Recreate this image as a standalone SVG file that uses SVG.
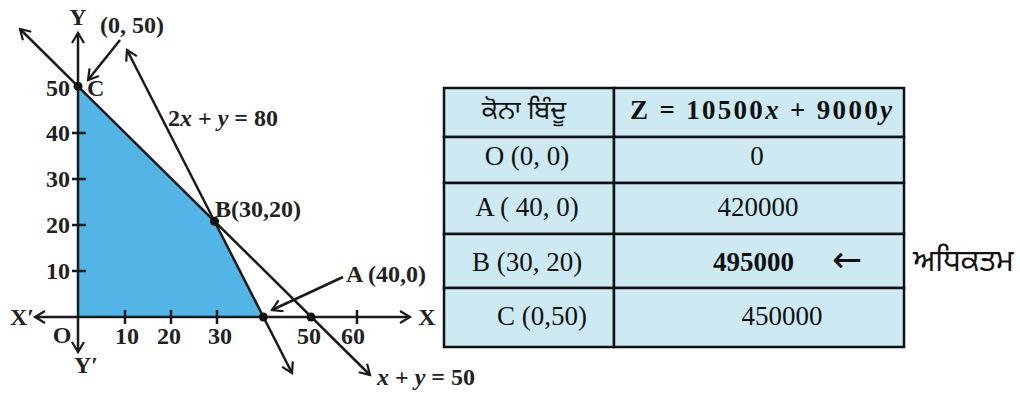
<svg xmlns="http://www.w3.org/2000/svg" width="1020" height="395" viewBox="0 0 1020 395">
<defs>
<style>
.ln{stroke:#1a1a1a;stroke-width:2.5;fill:none}
.ax{stroke:#1a1a1a;stroke-width:2.5;fill:none}
.tk{stroke:#1a1a1a;stroke-width:2.5}
.g{font-family:"Liberation Serif","Times New Roman",serif;font-weight:bold;font-size:24px;fill:#222}
.tb{font-family:"Liberation Serif","Times New Roman",serif;font-size:27px;fill:#111}
.pa{font-family:"Noto Sans Gurmukhi","Lohit Gurmukhi","Noto Sans",sans-serif;font-size:26px;fill:#111}
.cell{fill:#cdeaf3;stroke:#111;stroke-width:2.5}
.dot{fill:#111}
</style>
<marker id="ar" viewBox="0 0 14 14" refX="11" refY="7" markerWidth="14" markerHeight="14" markerUnits="userSpaceOnUse" orient="auto-start-reverse">
<path d="M1,1 L11,7 L1,13" fill="none" stroke="#1a1a1a" stroke-width="2.2"/>
</marker>
</defs>

<g id="region">
<polygon points="78,317 263.4,317 214.5,221.3 78,86.3" fill="#52b5e6"/>
</g>

<g id="axes">
<line class="ax" x1="78" y1="352" x2="78" y2="33" marker-start="url(#ar)" marker-end="url(#ar)"/>
<line class="ax" x1="35" y1="317" x2="410" y2="317" marker-start="url(#ar)" marker-end="url(#ar)"/>
<line class="tk" x1="72" y1="133" x2="86" y2="133"/>
<line class="tk" x1="72" y1="179" x2="86" y2="179"/>
<line class="tk" x1="72" y1="225" x2="86" y2="225"/>
<line class="tk" x1="72" y1="271" x2="86" y2="271"/>
<line class="tk" x1="125" y1="310" x2="125" y2="324"/>
<line class="tk" x1="171" y1="310" x2="171" y2="324"/>
<line class="tk" x1="217" y1="310" x2="217" y2="324"/>
<line class="tk" x1="357" y1="310" x2="357" y2="324"/>
<text class="g" x="78" y="25" text-anchor="middle">Y</text>
<text class="g" x="22" y="325" text-anchor="middle">X′</text>
<text class="g" x="427" y="325" text-anchor="middle">X</text>
<text class="g" x="86" y="373" text-anchor="middle">Y′</text>
<text class="g" x="62" y="343" text-anchor="middle">O</text>
<text class="g" x="70" y="96" text-anchor="end">50</text>
<text class="g" x="70" y="141" text-anchor="end">40</text>
<text class="g" x="70" y="187" text-anchor="end">30</text>
<text class="g" x="70" y="233" text-anchor="end">20</text>
<text class="g" x="70" y="279" text-anchor="end">10</text>
<text class="g" x="127" y="344" text-anchor="middle">10</text>
<text class="g" x="169" y="344" text-anchor="middle">20</text>
<text class="g" x="220" y="344" text-anchor="middle">30</text>
<text class="g" x="309" y="344" text-anchor="middle">50</text>
<text class="g" x="353" y="344" text-anchor="middle">60</text>
</g>

<g id="connectors">
<line class="ln" x1="78" y1="86.3" x2="20" y2="29" marker-end="url(#ar)"/>
<line class="ln" x1="78" y1="86.3" x2="370" y2="375" marker-end="url(#ar)"/>
<line class="ln" x1="214.5" y1="221.3" x2="127" y2="50" marker-end="url(#ar)"/>
<line class="ln" x1="214.5" y1="221.3" x2="292" y2="373" marker-end="url(#ar)"/>
<line class="ln" x1="120" y1="40" x2="88" y2="80" marker-end="url(#ar)"/>
<line class="ln" x1="343" y1="277" x2="272" y2="310" marker-end="url(#ar)"/>
</g>

<g id="pointC">
<circle class="dot" cx="78" cy="86.3" r="4.5"/>
<text class="g" x="87" y="96">C</text>
<text class="g" x="100" y="33">(0, 50)</text>
</g>
<g id="pointB">
<circle class="dot" cx="214.5" cy="221.3" r="4.5"/>
<text class="g" x="215" y="217">B(30,20)</text>
</g>
<g id="pointA">
<circle class="dot" cx="263.4" cy="317" r="4.5"/>
<text class="g" x="346" y="282">A (40,0)</text>
</g>
<g id="point50">
<circle class="dot" cx="311" cy="317" r="4.5"/>
</g>
<g id="line1label">
<text class="g" x="168" y="126">2<tspan font-style="italic">x</tspan> + <tspan font-style="italic">y</tspan> = 80</text>
</g>
<g id="line2label">
<text class="g" x="377" y="385"><tspan font-style="italic">x</tspan> + <tspan font-style="italic">y</tspan> = 50</text>
</g>

<g id="table">
<rect class="cell" x="444" y="88" width="170" height="49"/>
<rect class="cell" x="614" y="88" width="290" height="49"/>
<rect class="cell" x="444" y="137" width="170" height="46"/>
<rect class="cell" x="614" y="137" width="290" height="46"/>
<rect class="cell" x="444" y="183" width="170" height="51"/>
<rect class="cell" x="614" y="183" width="290" height="51"/>
<rect class="cell" x="444" y="234" width="170" height="54"/>
<rect class="cell" x="614" y="234" width="290" height="54"/>
<rect class="cell" x="444" y="288" width="170" height="59"/>
<rect class="cell" x="614" y="288" width="290" height="59"/>
<text class="pa" x="524" y="119" text-anchor="middle">ਕੋਨਾ ਬਿੰਦੂ</text>
<text class="tb" x="630" y="119" font-weight="bold" textLength="262" lengthAdjust="spacing">Z = 10500<tspan font-style="italic">x</tspan> + 9000<tspan font-style="italic">y</tspan></text>
<text class="tb" x="527" y="165" text-anchor="middle">O (0, 0)</text>
<text class="tb" x="757" y="165" text-anchor="middle">0</text>
<text class="tb" x="527" y="216" text-anchor="middle">A ( 40, 0)</text>
<text class="tb" x="758" y="216" text-anchor="middle">420000</text>
<text class="tb" x="527" y="271" text-anchor="middle">B (30, 20)</text>
<text class="tb" x="713" y="271" font-weight="bold">495000</text>
<text x="847" y="272" text-anchor="middle" font-family="'DejaVu Sans',sans-serif" font-size="36" fill="#111">←</text>
<text class="tb" x="542" y="325" text-anchor="middle">C (0,50)</text>
<text class="tb" x="782" y="325" text-anchor="middle">450000</text>
</g>

<g id="maxLabel">
<text class="pa" x="913" y="271" style="font-size:30px">ਅਧਿਕਤਮ</text>
</g>
</svg>
